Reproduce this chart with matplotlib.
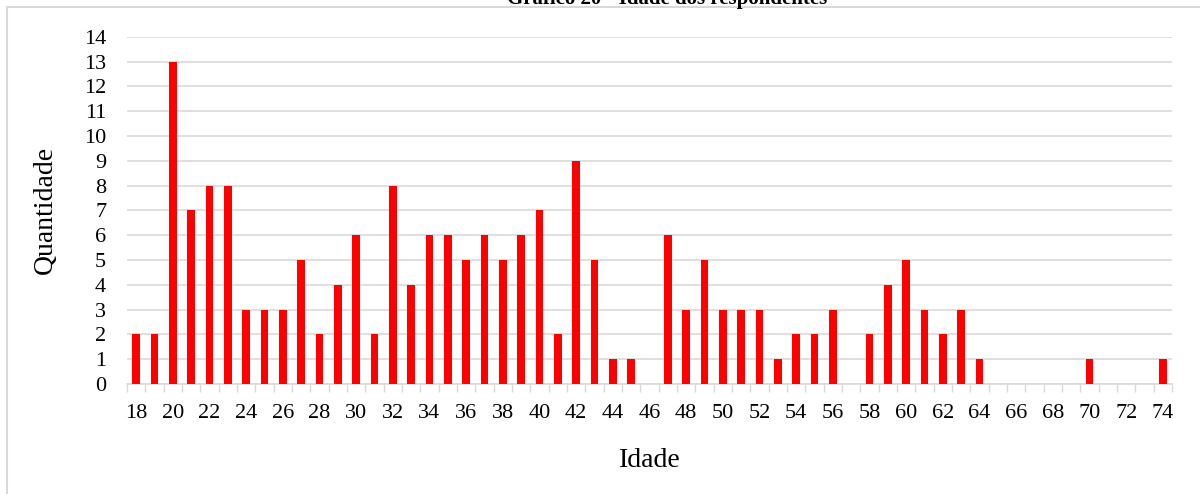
import matplotlib
matplotlib.use('Agg')
import matplotlib.pyplot as plt
from matplotlib.patches import Rectangle

plt.rcParams['font.family'] = ['Liberation Serif', 'DejaVu Serif']

# idade dos respondentes (anos) e quantidade
idades = list(range(18, 75))
quantidade = [2, 2, 13, 7, 8, 8, 3, 3, 3, 5,   # 18-27
              2, 4, 6, 2, 8, 4, 6, 6, 5, 6,    # 28-37
              5, 6, 7, 2, 9, 5, 1, 1, 0, 6,    # 38-47
              3, 5, 3, 3, 3, 1, 2, 2, 3, 0,    # 48-57
              2, 4, 5, 3, 2, 3, 1, 0, 0, 0,    # 58-67
              0, 0, 1, 0, 0, 0, 1]             # 68-74
titulo = 'Gráfico 20 - Idade dos respondentes'

fig = plt.figure(figsize=(12, 4.94), dpi=100)
ax = fig.add_axes([127/1200, 1-384/494, (1172-127)/1200, (384-36.7)/494])

ax.bar(idades, quantidade, width=0.42, color='#ff0000', zorder=3)

ax.set_xlim(17.5, 74.5)
ax.set_ylim(0, 14)
ax.set_yticks(range(0, 15))
ax.set_xticks(range(18, 75, 2))
ax.set_xticks([x + 0.5 for x in range(17, 75)], minor=True)
ax.tick_params(axis='x', which='major', length=0, pad=14.5, labelsize=16)
ax.tick_params(axis='x', which='minor', length=6, width=1, color='#d9d9d9')
ax.tick_params(axis='y', length=0, pad=15, labelsize=16)

ax.grid(axis='y', color='#d9d9d9', linewidth=1.2, zorder=0)
for s in ['top', 'right', 'left']:
    ax.spines[s].set_visible(False)
ax.spines['bottom'].set_color('#d9d9d9')
ax.spines['bottom'].set_linewidth(1.2)

ax.set_xlabel('Idade', fontsize=20, labelpad=18)
ax.set_ylabel('Quantidade', fontsize=20, labelpad=19)

# moldura da área do gráfico
fig.patches.append(Rectangle((7/1200, -0.05), 1.1, 1.05 - 7/494, transform=fig.transFigure,
                             fill=False, edgecolor='#d9d9d9', linewidth=1.5))
fig.text(0.556, 1 - 4/494, titulo, ha='center', va='baseline', fontsize=15, fontweight='bold')

fig.savefig('out.png', dpi=100)
